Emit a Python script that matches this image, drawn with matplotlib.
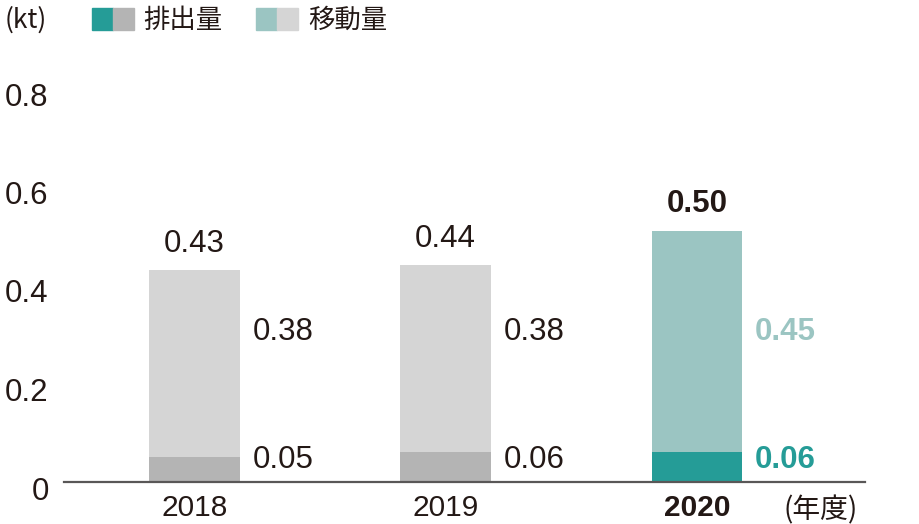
import matplotlib
matplotlib.use("Agg")
import matplotlib.pyplot as plt
from matplotlib.patches import Rectangle
from matplotlib.transforms import ScaledTranslation

years = ["2018", "2019", "2020"]
emission = [0.05, 0.06, 0.06]
transfer = [0.38, 0.38, 0.45]
totals = [0.43, 0.44, 0.50]
yticks = [0, 0.2, 0.4, 0.6, 0.8]
ytick_labels = ["0", "0.2", "0.4", "0.6", "0.8"]

EM_GREY, TR_GREY = "#b4b4b4", "#d5d5d5"
EM_TEAL, TR_TEAL = "#259c97", "#9bc5c2"
TXT = "#231815"
NUM = ["Liberation Sans", "DejaVu Sans"]
JP = ["Noto Sans CJK JP", "DejaVu Sans"]
FS = 22.5

fig = plt.figure(figsize=(9.2, 5.24), dpi=100)
ax = fig.add_axes([64/920, 1-482/524, 801/920, 394/524])
ax.set_xlim(-0.52, 2.67)
ax.set_ylim(0, 0.8)

x = list(range(len(years)))
w = 0.36
em_col = [EM_GREY, EM_GREY, EM_TEAL]
tr_col = [TR_GREY, TR_GREY, TR_TEAL]
ax.bar(x, emission, width=w, color=em_col, zorder=2)
ax.bar(x, transfer, width=w, bottom=emission, color=tr_col, zorder=2)

for s in ["top", "right", "left"]:
    ax.spines[s].set_visible(False)
ax.spines["bottom"].set_color("#595757")
ax.spines["bottom"].set_linewidth(1.6)
ax.spines["bottom"].set_zorder(3)
ax.tick_params(length=0)
ax.set_yticks(yticks)
ax.set_yticklabels(ytick_labels, fontsize=FS, color=TXT, family=NUM)
ax.tick_params(axis="y", pad=11)
shift = ScaledTranslation(0, -6/100, fig.dpi_scale_trans)
for lab in ax.get_yticklabels():
    lab.set_transform(lab.get_transform() + shift)
ax.set_xticks(x)
ax.set_xticklabels(years, fontsize=21.5, color=TXT, family=NUM)
ax.tick_params(axis="x", pad=9)
ax.get_xticklabels()[2].set_fontweight("bold")

for i in x:
    last = i == len(years) - 1
    top = emission[i] + transfer[i]
    ax.text(i, top + 0.054, f"{totals[i]:.2f}", ha="center", va="center",
            fontsize=FS, color=TXT, family=NUM,
            fontweight="bold" if last else "normal")
    ax.text(i + w/2 + 0.05, 0.304, f"{transfer[i]:.2f}", ha="left", va="center",
            fontsize=FS, color=TR_TEAL if last else TXT, family=NUM,
            fontweight="bold" if last else "normal")
    ax.text(i + w/2 + 0.05, 0.045, f"{emission[i]:.2f}", ha="left", va="center",
            fontsize=FS, color=EM_TEAL if last else TXT, family=NUM,
            fontweight="bold" if last else "normal")

fig.text(784/920, 1-510/524, "(年度)", ha="left", va="center",
         fontsize=20, color=TXT, family=JP)

# legend
fig.text(5/920, 1-20/524, "(kt)", ha="left", va="center", fontsize=19, color=TXT, family=JP)
sq = 21
def square(px, color):
    fig.patches.append(Rectangle((px/920, 1-30/524), sq/920, 22/524,
                                 transform=fig.transFigure, color=color, figure=fig))
square(92, EM_TEAL); square(113, EM_GREY)
fig.text(143/920, 1-20/524, "排出量", ha="left", va="center", fontsize=19, color=TXT, family=JP)
square(256, TR_TEAL); square(277, TR_GREY)
fig.text(308/920, 1-20/524, "移動量", ha="left", va="center", fontsize=19, color=TXT, family=JP)

fig.savefig("out.png", dpi=100)
